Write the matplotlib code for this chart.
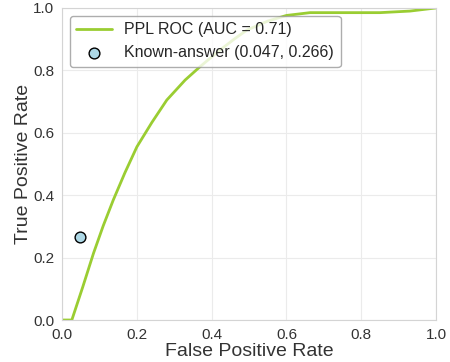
import matplotlib
matplotlib.use("Agg")
import matplotlib.pyplot as plt
import seaborn as sns

# ROC curve points
fpr = [0.0, 0.026, 0.055, 0.084, 0.11, 0.137, 0.168, 0.2, 0.24, 0.28, 0.329, 0.369, 0.422,
       0.46, 0.494, 0.55, 0.6, 0.663, 0.75, 0.85, 0.93, 1.0]
tpr = [0.0, 0.0, 0.105, 0.214, 0.302, 0.385, 0.472, 0.555, 0.633, 0.705, 0.769, 0.812, 0.865,
       0.9, 0.929, 0.958, 0.976, 0.985, 0.985, 0.985, 0.99, 1.0]
auc = 0.71

known_fpr = 0.047
known_tpr = 0.266

sns.set_style("whitegrid")
plt.rcParams['font.family'] = ['Liberation Sans', 'DejaVu Sans']

fig, ax = plt.subplots(figsize=(4.5, 3.62), dpi=100)
fig.subplots_adjust(left=0.138, right=0.969, top=0.978, bottom=0.116)

ax.plot(fpr, tpr, color="yellowgreen", lw=2, label=f"PPL ROC (AUC = {auc:.2f})")
ax.scatter([known_fpr], [known_tpr], s=60, color="lightblue", edgecolor="black", zorder=3,
           label=f"Known-answer ({known_fpr:.3f}, {known_tpr:.3f})")

ax.set_xlim(0, 1)
ax.set_ylim(0, 1)
ax.grid(color="#ebebeb", lw=0.8)
for s in ax.spines.values():
    s.set_color("#d4d4d4")
ax.set_xlabel("False Positive Rate", fontsize=14, color="#333333", labelpad=1)
ax.set_ylabel("True Positive Rate", fontsize=14, color="#333333", labelpad=1)
ax.tick_params(labelsize=11, colors="#333333", pad=2)
ax.legend(loc="upper left", fontsize=11.5, frameon=True, edgecolor="#999999",
          borderaxespad=0.5, handlelength=2.2)

fig.savefig("out.png", dpi=100)
